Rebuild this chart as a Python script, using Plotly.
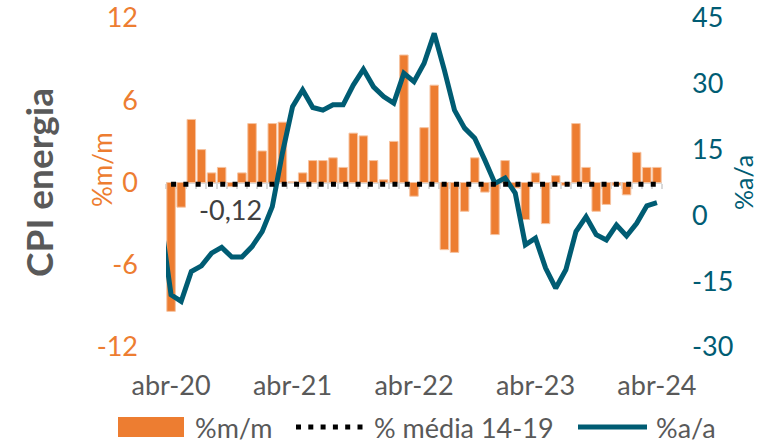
import plotly.graph_objects as go
import pandas as pd

# ---------------- data ----------------
mom_start = "2020-04"
mom_values = [-9.4, -1.8, 4.6, 2.4, 0.7, 1.1, -0.3, 0.7, 4.3, 2.3, 4.3, 4.4,
              0.05, 0.7, 1.6, 1.6, 1.8, 1.1, 3.6, 3.4, 1.6, 0.2, 3.0, 9.3,
              -1.0, 4.0, 7.1, -4.9, -5.1, -2.1, 1.8, -0.7, -3.8, 1.6, -0.4, -2.7,
              0.7, -3.0, 0.5, -0.2, 4.3, 1.1, -2.1, -1.6, -0.2, -0.9, 2.2, 1.1,
              1.1]
yoy_start = "2020-03"
yoy_values = [-1.5,
              -18.1, -19.6, -12.8, -11.5, -8.6, -7.3, -9.5, -9.5, -7.1, -3.7, 2.0, 14.2,
              24.8, 28.6, 24.6, 24.0, 25.2, 25.2, 29.7, 33.3, 29.3, 27.1, 25.6, 32.4,
              30.5, 34.7, 41.5, 33.1, 24.0, 19.9, 17.6, 12.6, 7.3, 8.5, 5.1, -6.7,
              -5.2, -12.0, -16.6, -12.4, -3.7, -0.3, -4.4, -5.6, -2.2, -4.7, -1.8, 2.2,
              2.9]
media_1419 = -0.12
tick_months = ["2020-04", "2021-04", "2022-04", "2023-04", "2024-04"]
tick_labels = ["abr-20", "abr-21", "abr-22", "abr-23", "abr-24"]
left_ticks = [-12, -6, 0, 6, 12]
left_tick_labels = ["-12", "-6", "0", "6", "12"]
right_ticks = [-30, -15, 0, 15, 30, 45]
right_tick_labels = ["-30", "-15", "0", "15", "30", "45"]

# ---------------- helpers ----------------
base = pd.Period(mom_start, freq="M")


def month_idx(p):
    return (pd.Period(p, freq="M") - base).n


mom_x = [month_idx(p) for p in pd.period_range(mom_start, periods=len(mom_values), freq="M")]
yoy_x = [month_idx(p) for p in pd.period_range(yoy_start, periods=len(yoy_values), freq="M")]
tick_x = [month_idx(p) for p in tick_months]

ORANGE = "#ED7D31"
TEAL = "#005C73"
GRAY = "#595959"
FONT = "Lato"

W, H = 758, 446
PLOT_X0, PLOT_X1, PLOT_Y0, PLOT_Y1 = 166, 662, 18, 347   # plot area in pixels
L, R, T, B = PLOT_X0, W - PLOT_X1, PLOT_Y0, H - PLOT_Y1
PW, PH = PLOT_X1 - PLOT_X0, PLOT_Y1 - PLOT_Y0


def px(x):
    return (x - PLOT_X0) / PW


def py(y):
    return (PLOT_Y1 - y) / PH


fig = go.Figure()
fig.add_trace(go.Bar(x=mom_x, y=mom_values, name="%m/m",
                     marker=dict(color=ORANGE, line=dict(color="#F6C3A0", width=1)),
                     xaxis="x", yaxis="y"))
fig.add_trace(go.Scatter(x=mom_x, y=[media_1419] * len(mom_x), name="% média 14-19",
                         mode="lines", line=dict(color="black", width=5, dash="5px,7.3px"),
                         xaxis="x2", yaxis="y"))
fig.add_trace(go.Scatter(x=yoy_x, y=yoy_values, name="%a/a", mode="lines",
                         line=dict(color=TEAL, width=5), xaxis="x", yaxis="y2"))

xr = [-0.5, len(mom_values) - 0.5]
fig.update_layout(
    width=W, height=H, autosize=False,
    margin=dict(l=L, r=R, t=T, b=B, autoexpand=False),
    paper_bgcolor="white", plot_bgcolor="white",
    showlegend=False, bargap=0.16,
    font=dict(family=FONT, size=27, color=GRAY),
    xaxis=dict(range=xr, tickvals=tick_x, ticktext=tick_labels, showgrid=False,
               zeroline=False, showline=False, ticks="", ticklabelstandoff=20,
               automargin=False, ticklabeloverflow="allow",
               tickfont=dict(family=FONT, size=27, color=GRAY)),
    xaxis2=dict(range=xr, overlaying="x", anchor="free", position=0.5, side="bottom",
                showgrid=False, zeroline=False, showline=True, linecolor="#D9D9D9", linewidth=2,
                ticks="outside", ticklen=5, tickwidth=2, tickcolor="#D9D9D9",
                tick0=-0.5, dtick=1, showticklabels=False, layer="below traces",
                automargin=False),
    yaxis=dict(range=[-12, 12], tickvals=left_ticks, ticktext=left_tick_labels,
               showgrid=False, zeroline=False,
               showline=False, ticks="", ticklabelstandoff=27, automargin=False,
               ticklabeloverflow="allow",
               tickfont=dict(family=FONT, size=27, color=ORANGE)),
    yaxis2=dict(range=[-30, 45], tickvals=right_ticks, ticktext=right_tick_labels,
                overlaying="y", side="right",
                showgrid=False, zeroline=False, showline=False, ticks="", ticklabelstandoff=29,
                automargin=False, ticklabeloverflow="allow",
                tickfont=dict(family=FONT, size=27, color=TEAL)),
)

ann = [
    dict(text="-0,12", x=px(230), y=py(209), font=dict(size=27, color="#404040")),
    dict(text="%m/m", x=px(102), y=py(170), textangle=-90, font=dict(size=26, color=ORANGE)),
    dict(text="%a/a", x=px(743), y=py(183), textangle=-90, font=dict(size=25, color=TEAL)),
    dict(text="<b>CPI energia</b>", x=px(38), y=py(183), textangle=-90,
         font=dict(size=37, color=GRAY)),
    dict(text="%m/m", x=px(193), y=py(427), xanchor="left", font=dict(size=27, color=GRAY)),
    dict(text="% média 14-19", x=px(372), y=py(427), xanchor="left", font=dict(size=27, color=GRAY)),
    dict(text="%a/a", x=px(654), y=py(427), xanchor="left", font=dict(size=27, color=GRAY)),
]
for a in ann:
    a.setdefault("xanchor", "center")
    fig.add_annotation(xref="paper", yref="paper", showarrow=False, yanchor="middle",
                       font_family=FONT, **a)

# legend symbols
fig.add_shape(type="rect", xref="paper", yref="paper", x0=px(118), x1=px(184),
              y0=py(437), y1=py(417), fillcolor=ORANGE, line=dict(width=0))
fig.add_shape(type="line", xref="paper", yref="paper", x0=px(296), x1=px(364),
              y0=py(427), y1=py(427), line=dict(color="black", width=5, dash="5px,7.3px"))
fig.add_shape(type="line", xref="paper", yref="paper", x0=px(578), x1=px(647),
              y0=py(427), y1=py(427), line=dict(color=TEAL, width=5))

# remove the default 8px page margin so the figure fills the 758x446 window
fig.write_html("out.html", config={"displayModeBar": False},
               post_script="document.body.style.margin='0px';")
